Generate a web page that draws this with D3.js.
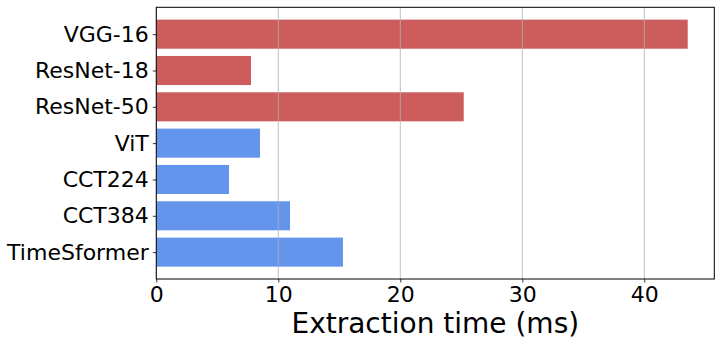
<!DOCTYPE html>
<html lang="en">
	<head>
		<meta charset="utf-8">
		<title>Extraction time</title>
		<script src="https://d3js.org/d3.v7.min.js"></script>
		<style type="text/css">
			body { margin: 0; background: #fff; }
			text { font-family: "DejaVu Sans", sans-serif; fill: #000; }
		</style>
	</head>

	<body>
		<script type="text/javascript">
			// window setup
			var w = 721
			var h = 345

			// data
			var models = ["VGG-16", "ResNet-18", "ResNet-50", "ViT", "CCT224", "CCT384", "TimeSformer"]
			var times = [43.56, 7.76, 25.2, 8.5, 5.96, 10.96, 15.3]
			var families = ["cnn", "cnn", "cnn", "transformer", "transformer", "transformer", "transformer"]
			var xTicks = [0, 10, 20, 30, 40]

			var colors = { cnn: "#cd5c5c", transformer: "#6495ed" }

			// plot area (note: "top" is taken by window.top)
			var plotL = 156.3, plotR = 714.3, plotT = 7.3, plotB = 279

			var xMax = d3.max(times) * 1.05
			var x = d3.scaleLinear().domain([0, xMax]).range([plotL, plotR])

			// bars at integer positions, height 0.8, 5% margins like matplotlib
			var y = d3.scaleLinear().domain([-0.74, 6.74]).range([plotT, plotB])
			var barH = y(0.4) - y(-0.4)

			var svg = d3.select("body")
						.append("svg")
						.attr("width", w)
						.attr("height", h)

			// bars
			svg.selectAll("rect.bar")
				.data(models)
				.enter()
				.append("rect")
				.attr("class", "bar")
				.attr("x", x(0))
				.attr("y", function(d, i) { return y(i) - barH / 2 })
				.attr("width", function(d, i) { return x(times[i]) - x(0) })
				.attr("height", barH)
				.style("fill", function(d, i) { return colors[families[i]] })

			// vertical grid, drawn over the bars
			svg.selectAll("line.grid")
				.data(xTicks)
				.enter()
				.append("line")
				.attr("class", "grid")
				.attr("x1", function(d) { return x(d) })
				.attr("x2", function(d) { return x(d) })
				.attr("y1", plotT)
				.attr("y2", plotB)
				.style("stroke", "#b0b0b0")
				.style("stroke-width", 0.8)

			// x axis
			var xAxis = d3.axisBottom(x)
						.tickValues(xTicks)
						.tickSize(3.5)
						.tickPadding(3.5)
			var gx = svg.append("g")
						.attr("transform", "translate(0," + plotB + ")")
						.call(xAxis)
			gx.select(".domain").remove()
			gx.selectAll("text")
				.style("font-size", "22px")
				.style("font-family", "DejaVu Sans")
				.attr("fill", "#000")
			gx.selectAll("line").style("stroke", "#000").style("stroke-width", 0.8)

			// y axis
			var yAxis = d3.axisLeft(y)
						.tickValues(d3.range(models.length))
						.tickFormat(function(d) { return models[d] })
						.tickSize(3.5)
						.tickPadding(4)
			var gy = svg.append("g")
						.attr("transform", "translate(" + plotL + ",0)")
						.call(yAxis)
			gy.select(".domain").remove()
			gy.selectAll("text")
				.style("font-size", "22px")
				.style("font-family", "DejaVu Sans")
				.attr("fill", "#000")
			gy.selectAll("line").style("stroke", "#000").style("stroke-width", 0.8)

			// frame
			svg.append("rect")
				.attr("x", plotL)
				.attr("y", plotT)
				.attr("width", plotR - plotL)
				.attr("height", plotB - plotT)
				.style("fill", "none")
				.style("stroke", "#000")
				.style("stroke-width", 1)

			// x label
			svg.append("text")
				.attr("x", (plotL + plotR) / 2)
				.attr("y", 333)
				.attr("text-anchor", "middle")
				.style("font-size", "28px")
				.text("Extraction time (ms)")

		</script>
	</body>
</html>
